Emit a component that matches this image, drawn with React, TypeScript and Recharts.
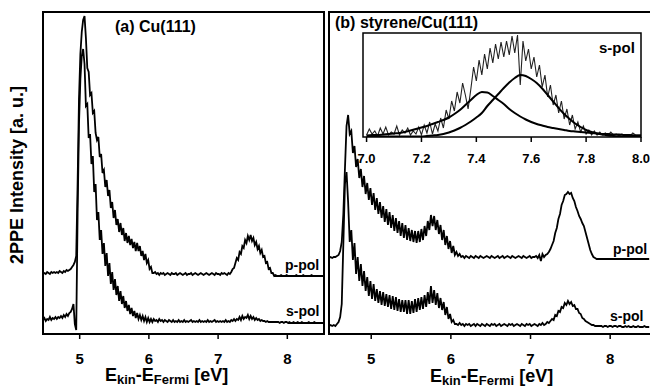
import React from 'react';
import { LineChart, Line, XAxis, YAxis } from 'recharts';

const FONT = '"Liberation Sans", Arial, Helvetica, sans-serif';

// energy grids (eV): measured every 0.02 eV from 4.47
const gridStart = 4.47;
const gridStep = 0.02;
const mainTicks = [5, 6, 7, 8];
const insetTicks = [7.0, 7.2, 7.4, 7.6, 7.8, 8.0];

// (a) Cu(111), intensities with vertical offset (a. u.)
const cuPpol = [
  60, 61, 60, 62, 61, 60, 62, 61, 62, 61,
  62, 61, 63, 62, 61, 63, 62, 64, 63, 64,
  65, 67, 69, 72, 78, 150, 235, 280, 302, 314,
  318, 296, 266, 262, 239, 241, 221, 223, 201, 194,
  197, 177, 180, 161, 164, 147, 154, 138, 144, 126,
  132, 116, 124, 109, 115, 102, 111, 99, 106, 93,
  101, 91, 98, 89, 95, 86, 92, 83, 91, 83,
  88, 78, 83, 74, 80, 71, 74, 65, 67, 61,
  61, 62, 60, 61, 59, 61, 60, 61, 59, 60,
  61, 60, 59, 61, 60, 60, 61, 59, 60, 61,
  60, 59, 60, 61, 59, 60, 60, 61, 59, 60,
  61, 60, 59, 60, 61, 60, 59, 60, 61, 60,
  59, 60, 61, 60, 59, 61, 60, 60, 59, 61,
  60, 61, 60, 59, 61, 60, 62, 65, 66, 71,
  76, 74, 82, 80, 88, 86, 94, 91, 98, 94,
  99, 93, 96, 89, 92, 85, 88, 81, 84, 77,
  78, 71, 72, 65, 66, 61, 61, 58, 59, 58,
  58, 58, 59, 58, 58, 58, 59, 58, 58, 58,
  58, 58, 58, 59, 58, 58, 58, 58, 59, 58,
  58, 58, 58, 58, 59, 58, 58, 58, 58, 58,
  58, 58, 58, 58,
];
const cuSpol = [
  14, 16, 13, 15, 14, 17, 14, 16, 15, 17,
  15, 17, 16, 18, 16, 19, 17, 20, 18, 21,
  22, 25, 30, 10, 4, 120, 210, 255, 278, 285,
  270, 228, 230, 196, 200, 170, 178, 142, 150, 114,
  122, 94, 104, 80, 91, 68, 81, 58, 71, 50,
  62, 44, 55, 39, 48, 33, 43, 30, 38, 26,
  33, 23, 29, 20, 26, 18, 23, 16, 21, 15,
  19, 14, 18, 13, 17, 12, 16, 12, 15, 12,
  15, 13, 14, 12, 15, 13, 14, 12, 14, 13,
  12, 14, 13, 12, 14, 12, 13, 12, 14, 12,
  13, 12, 14, 12, 13, 12, 13, 14, 12, 13,
  12, 13, 12, 14, 12, 13, 12, 13, 12, 14,
  12, 13, 12, 13, 14, 12, 13, 12, 13, 12,
  13, 12, 14, 12, 13, 12, 14, 13, 15, 13,
  15, 14, 17, 14, 18, 15, 17, 16, 19, 15,
  18, 15, 17, 14, 16, 14, 15, 13, 14, 13,
  13, 12, 13, 12, 12, 12, 12, 12, 12, 12,
  12, 11, 12, 12, 11, 12, 12, 11, 12, 11,
  11, 12, 11, 11, 12, 11, 11, 12, 11, 11,
  11, 11, 12, 11, 11, 11, 12, 11, 11, 11,
  11, 11, 11, 11,
];

// (b) styrene/Cu(111)
const styPpol = [
  76, 77, 76, 77, 77, 78, 79, 83, 92, 120,
  165, 208, 219, 200, 203, 181, 188, 167, 175, 156,
  165, 147, 158, 140, 151, 134, 146, 129, 141, 124,
  136, 120, 132, 116, 128, 112, 125, 109, 122, 106,
  119, 103, 116, 101, 113, 98, 111, 96, 109, 94,
  106, 93, 104, 92, 103, 91, 103, 92, 105, 94,
  108, 98, 113, 104, 119, 108, 118, 104, 114, 100,
  109, 94, 104, 89, 98, 85, 93, 81, 88, 79,
  82, 78, 80, 77, 78, 76, 78, 77, 76, 78,
  77, 76, 78, 77, 76, 78, 77, 76, 77, 78,
  77, 76, 78, 77, 76, 77, 78, 76, 77, 78,
  76, 77, 78, 77, 76, 78, 77, 76, 77, 78,
  77, 76, 78, 77, 76, 77, 78, 76, 77, 77,
  78, 76, 79, 73, 80, 77, 79, 80, 82, 85,
  89, 93, 101, 106, 115, 120, 129, 133, 139, 140,
  142, 140, 141, 136, 133, 127, 123, 118, 115, 111,
  108, 102, 96, 90, 84, 80, 77, 76, 75, 75,
  75, 75, 75, 75, 75, 75, 75, 75, 75, 75,
  75, 75, 75, 75, 75, 75, 75, 75, 75, 75,
  75, 75, 75, 75, 75, 75, 75, 75, 75, 75,
  75, 75,
];
const stySpol = [
  8, 9, 8, 9, 8, 10, 12, 17, 30, 90,
  150, 162, 132, 92, 104, 74, 91, 60, 77, 53,
  70, 48, 63, 43, 57, 38, 53, 35, 50, 33,
  45, 31, 43, 29, 42, 28, 40, 27, 39, 25,
  38, 24, 37, 23, 35, 22, 34, 22, 34, 20,
  34, 20, 33, 21, 35, 22, 36, 24, 37, 25,
  39, 27, 42, 30, 48, 31, 44, 29, 41, 26,
  36, 24, 32, 19, 27, 15, 20, 12, 14, 10,
  10, 9, 11, 9, 10, 8, 10, 9, 10, 8,
  9, 10, 8, 10, 9, 8, 10, 9, 8, 10,
  9, 8, 10, 9, 10, 8, 9, 10, 8, 9,
  10, 9, 8, 10, 9, 10, 8, 9, 10, 9,
  8, 10, 9, 8, 10, 9, 10, 8, 9, 10,
  9, 8, 10, 9, 11, 9, 10, 12, 11, 13,
  15, 14, 19, 18, 23, 22, 27, 26, 31, 29,
  33, 30, 32, 28, 29, 25, 25, 21, 20, 16,
  15, 13, 12, 11, 10, 9, 9, 8, 8, 8,
  8, 8, 7, 8, 8, 7, 8, 8, 7, 8,
  8, 7, 8, 8, 7, 7, 8, 7, 8, 7,
  7, 8, 7, 7, 8, 7, 7, 7, 8, 7,
  7, 7,
];

// inset: s-pol, 7.00 - 8.00 eV every 0.01 eV
const insetStart = 7.0;
const insetStep = 0.01;
const insetSpol = [
  2, 8, 3, 6, 1, 9, 3, 10, 2, 5,
  3, 11, 2, 7, 4, 9, 2, 6, 3, 10,
  2, 12, 4, 15, 3, 13, 6, 19, 9, 27,
  18, 36, 26, 45, 34, 54, 42, 28, 48, 70,
  56, 77, 62, 83, 68, 89, 74, 93, 78, 95,
  80, 96, 82, 101, 84, 102, 52, 96, 76, 88,
  68, 80, 60, 72, 50, 62, 40, 52, 32, 42,
  24, 36, 18, 28, 12, 22, 8, 15, 5, 11,
  3, 7, 2, 6, 2, 5, 2, 4, 2, 5,
  2, 3, 1, 3, 2, 2, 1, 4, 2, 2,
  2,
];
// fitted components, every 0.02 eV
const fitStep = 0.02;
const fitLow = [
  1.5, 2, 2, 2.5, 3, 3.5, 4, 5, 6.5, 8,
  9.5, 11, 13, 15, 17, 19.5, 23, 27, 32, 37,
  42, 45, 44.5, 41, 37, 33, 28, 24, 20.5, 17.5,
  15, 13, 11.5, 10, 9, 8, 7, 6, 5.5, 5,
  4.5, 4, 3.5, 3, 3, 2.5, 2.5, 2, 2, 1.5,
  1.5,
];
const fitHigh = [
  0.5, 0.5, 0.5, 0.5, 0.5, 0.5, 0.5, 0.5, 0.5, 0.5,
  0.5, 1, 1.5, 2, 3, 4.5, 6.5, 9, 12, 15.5,
  19.5, 24, 31, 37, 43, 49, 54.5, 59, 62, 61,
  58, 54, 48.5, 42, 35.5, 29, 23, 18, 13.5, 10,
  7, 5, 3.5, 2.5, 1.5, 1, 0.5, 0.5, 0.5, 0.5,
  0.5,
];

const cuData = cuPpol.map((v, i) => ({ e: +(gridStart + i * gridStep).toFixed(2), p: v, s: cuSpol[i] }));
const styData = styPpol.map((v, i) => ({ e: +(gridStart + i * gridStep).toFixed(2), p: v, s: stySpol[i] }));
const insetData = insetSpol.map((v, i) => ({ e: +(insetStart + i * insetStep).toFixed(2), s: v }));
const fitData = fitLow.map((v, i) => ({ e: +(insetStart + i * fitStep).toFixed(2), a: v, b: fitHigh[i] }));

const tickStyle = { fill: '#000', fontSize: 15, fontWeight: 'bold', fontFamily: FONT };

const abs = (left: number, top: number): React.CSSProperties => ({ position: 'absolute', left, top });

const EnergyTitle = ({ x, y }: { x: number; y: number }) => (
  <text x={x} y={y} fontSize={18}>
    E<tspan fontSize={13} dy={3}>kin</tspan><tspan dy={-3}>-E</tspan><tspan fontSize={13} dy={3}>Fermi</tspan><tspan dy={-3}>{' [eV]'}</tspan>
  </text>
);

export default function App() {
  return (
    <div style={{ position: 'absolute', left: 0, top: 0, width: 650, height: 387, background: '#fff', overflow: 'hidden' }}>
      {/* panel (a) */}
      <div style={abs(0, 0)}>
        <LineChart width={330} height={387} data={cuData} margin={{ top: 12, right: 6, bottom: 23, left: 43 }}>
          <XAxis dataKey="e" type="number" domain={[4.47, 8.53]} ticks={mainTicks} interval={0} allowDataOverflow
            axisLine={false} tickLine={{ stroke: '#000', strokeWidth: 1.5 }} tickSize={5} tickMargin={14}
            height={30} tick={tickStyle} />
          <YAxis hide type="number" domain={[0, 322]} allowDataOverflow />
          <Line dataKey="p" type="linear" stroke="#000" strokeWidth={1.8} dot={false} isAnimationActive={false} />
          <Line dataKey="s" type="linear" stroke="#000" strokeWidth={1.8} dot={false} isAnimationActive={false} />
        </LineChart>
      </div>

      {/* panel (b) */}
      <div style={abs(326, 0)}>
        <LineChart width={324} height={387} data={styData} margin={{ top: 12, right: 0, bottom: 23, left: 3 }}>
          <XAxis dataKey="e" type="number" domain={[4.47, 8.5]} ticks={mainTicks} interval={0} allowDataOverflow
            axisLine={false} tickLine={{ stroke: '#000', strokeWidth: 1.5 }} tickSize={5} tickMargin={14}
            height={30} tick={tickStyle} />
          <YAxis hide type="number" domain={[0, 322]} allowDataOverflow />
          <Line dataKey="p" type="linear" stroke="#000" strokeWidth={1.8} dot={false} isAnimationActive={false} />
          <Line dataKey="s" type="linear" stroke="#000" strokeWidth={1.8} dot={false} isAnimationActive={false} />
        </LineChart>
      </div>

      {/* inset */}
      <div style={{ ...abs(363, 33), width: 278, height: 104, background: '#fff' }} />
      <div style={abs(340, 30)}>
        <LineChart width={310} height={170} margin={{ top: 3, right: 9, bottom: 33, left: 23 }}>
          <XAxis dataKey="e" type="number" domain={[6.987, 8.0]} ticks={insetTicks} interval={0} allowDataOverflow
            axisLine={false} tickLine={{ stroke: '#000', strokeWidth: 1.5 }} tickSize={5} tickMargin={12}
            height={30} tickFormatter={(v: number) => v.toFixed(1)}
            tick={{ ...tickStyle, fontSize: 13 }} />
          <YAxis hide type="number" domain={[0, 104]} allowDataOverflow />
          <Line data={insetData} dataKey="s" type="linear" stroke="#222" strokeWidth={1.1} dot={false} isAnimationActive={false} />
          <Line data={fitData} dataKey="a" type="monotone" stroke="#000" strokeWidth={2} dot={false} isAnimationActive={false} />
          <Line data={fitData} dataKey="b" type="monotone" stroke="#000" strokeWidth={2} dot={false} isAnimationActive={false} />
        </LineChart>
      </div>

      {/* frames and labels */}
      <svg width={650} height={387} style={{ ...abs(0, 0), pointerEvents: 'none' }} fontFamily={FONT} fontWeight="bold">
        <rect x={43} y={12} width={281} height={322} fill="none" stroke="#000" strokeWidth={2} />
        <rect x={329} y={12} width={330} height={322} fill="none" stroke="#000" strokeWidth={2} />
        <rect x={363} y={33} width={278} height={104} fill="none" stroke="#000" strokeWidth={1.5} />

        <text x={17} y={175} transform="rotate(-90 17 175)" textAnchor="middle" dominantBaseline="central" fontSize={18}>
          2PPE Intensity [a. u.]
        </text>

        <text x={115} y={32} fontSize={16}>(a) Cu(111)</text>
        <text x={335} y={28} fontSize={16}>(b) styrene/Cu(111)</text>
        <text x={599} y={53} fontSize={15}>s-pol</text>

        <text x={285} y={270} fontSize={14}>p-pol</text>
        <text x={286} y={316} fontSize={14}>s-pol</text>
        <text x={613} y={254} fontSize={14}>p-pol</text>
        <text x={610} y={321} fontSize={14}>s-pol</text>

        <EnergyTitle x={105} y={381} />
        <EnergyTitle x={430} y={382} />
      </svg>
    </div>
  );
}
